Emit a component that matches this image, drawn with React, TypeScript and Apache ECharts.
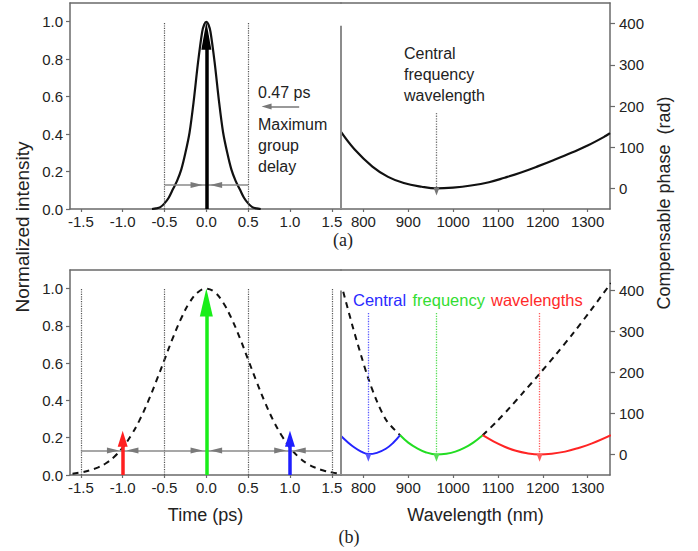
import React, { useEffect, useRef } from "react";
import * as echarts from "echarts";

// ---------- tick labels ----------
const timeTicks = [-1.5, -1.0, -0.5, 0.0, 0.5, 1.0, 1.5];
const intensityTicks = [0, 0.2, 0.4, 0.6, 0.8, 1.0];
const wavelengthTicks = [800, 900, 1000, 1100, 1200, 1300];
const phaseTicks = [0, 100, 200, 300, 400];

// ---------- panel (a) ----------
const timeA = [-0.65, -0.6, -0.55, -0.5, -0.45, -0.4, -0.35, -0.3, -0.25, -0.2, -0.15, -0.1, -0.05, -0.025, 0, 0.025, 0.05, 0.1, 0.15, 0.2, 0.25, 0.3, 0.35, 0.4, 0.45, 0.5, 0.55, 0.6, 0.65];
const intensityA = [0, 0.003, 0.01, 0.03, 0.06, 0.105, 0.15, 0.21, 0.3, 0.41, 0.58, 0.78, 0.945, 0.985, 1.0, 0.985, 0.945, 0.78, 0.58, 0.41, 0.3, 0.21, 0.15, 0.105, 0.06, 0.03, 0.01, 0.003, 0];
const wavelengthA = [750, 780, 820, 855, 890, 930, 963, 1000, 1040, 1080, 1115, 1150, 1190, 1225, 1265, 1300, 1340, 1350];
const phaseA = [137, 95, 53, 28, 13, 4, 0, 2, 7, 15, 26, 38, 54, 69, 87, 104, 127, 134];
const delayWindowA = [-0.5, 0.5];
const fwhmLevelA = 0.128;
const centralWavelengthA = 963;
const delayArrowA = { from: 1.11, to: 0.66, level: 0.547 };

// ---------- panel (b) ----------
const timeB = [-1.6, -1.5, -1.4, -1.3, -1.2, -1.1, -1.0, -0.9, -0.8, -0.7, -0.6, -0.5, -0.4, -0.3, -0.2, -0.1, 0, 0.1, 0.2, 0.3, 0.4, 0.5, 0.6, 0.7, 0.8, 0.9, 1.0, 1.1, 1.2, 1.3, 1.4, 1.5, 1.6];
const intensityB = [0.007, 0.014, 0.024, 0.04, 0.063, 0.098, 0.147, 0.212, 0.293, 0.391, 0.502, 0.619, 0.736, 0.841, 0.926, 0.981, 1.0, 0.981, 0.926, 0.841, 0.736, 0.619, 0.502, 0.391, 0.293, 0.212, 0.147, 0.098, 0.063, 0.04, 0.024, 0.014, 0.007];
const delayWindowB = [-1.5, -0.5, 0.5, 1.5];
const fwhmLevelB = 0.131;
const pulseTimesB = [-1.0, 0.0, 1.0];
const pulseTopsB = [0.237, 1.0, 0.237];
const pulseColorsB = ["#ff1f1f", "#19ee19", "#1f1fff"];

const dashLeftWl = [755, 775, 795, 811, 830, 852, 882];
const dashLeftPh = [397, 316, 241, 185, 130, 82, 47];
const dashRightWl = [1066, 1097, 1127, 1157, 1193, 1231, 1268, 1306, 1352];
const dashRightPh = [47, 80, 115, 152, 197, 246, 296, 350, 418];
const blueWl = [750, 765, 780, 795, 811, 830, 850, 866, 882];
const bluePh = [45, 30, 17, 7, 1, 4, 14, 28, 47];
const greenWl = [882, 900, 920, 940, 963, 985, 1005, 1025, 1045, 1066];
const greenPh = [47, 29, 15, 5, 0, 2, 7, 16, 29, 47];
const redWl = [1066, 1090, 1115, 1140, 1165, 1193, 1220, 1250, 1280, 1310, 1352];
const redPh = [47, 32, 19, 9, 3, 0, 2, 7, 16, 27, 47];
const centralWavelengthsB = [811, 963, 1193];
const centralColorsB = ["#5a5aff", "#55dd55", "#ff5a5a"];
const segmentColorsB = ["#2424ff", "#22dd22", "#ff2424"];

// ---------- texts ----------
const legendWordsB = ["Central", "frequency", "wavelengths"];
const legendColorsB = ["#2a2aff", "#33dd33", "#ff2a2a"];

const zip = (xs: number[], ys: number[]) => xs.map((x, i) => [x, ys[i]]);

const SANS = "'Liberation Sans', Arial, Helvetica, sans-serif";
const SERIF = "'Liberation Serif', 'Times New Roman', serif";
const FRAME = "#6a6a6a";
const TEXT = "#222";

const TIME_RANGE = [-1.63, 1.61];
const WL_RANGE = [750, 1350];
const INT_RANGE = [0, 1.1];
const PH_RANGE = [-50, 450];

// pixel scales used only to place arrow-head centres so that their tips land on the target value
const PX_T = 271 / (TIME_RANGE[1] - TIME_RANGE[0]);
const PX_I = 206 / (INT_RANGE[1] - INT_RANGE[0]);
const PX_P = 206 / (PH_RANGE[1] - PH_RANGE[0]);
const back = (tip: number, headLen: number, pxPerUnit: number, dir: number) => tip - (dir * headLen) / 2 / pxPerUnit;

const axisLine = { show: true, onZero: false, lineStyle: { color: FRAME, width: 1.5 } };
const labelBase = { fontSize: 15, color: TEXT, fontFamily: SANS };

function xBottom(gridIndex: number, range: number[], ticks: number[], fmt: (v: number) => string, name?: string) {
  return {
    type: "value", gridIndex, position: "bottom", min: range[0], max: range[1],
    splitLine: { show: false }, axisLine,
    axisTick: { show: true, length: 3, inside: false, customValues: ticks, lineStyle: { color: FRAME, width: 1.2 } },
    axisLabel: { show: true, customValues: ticks, formatter: fmt, margin: 5, ...labelBase },
    name: name || "", nameLocation: "middle", nameGap: 31,
    nameTextStyle: { fontSize: 18, color: TEXT, fontFamily: SANS },
  };
}
function xTop(gridIndex: number, range: number[]) {
  return {
    type: "value", gridIndex, position: "top", min: range[0], max: range[1],
    splitLine: { show: false }, axisLine, axisTick: { show: false }, axisLabel: { show: false },
  };
}
function yLeft(gridIndex: number) {
  return {
    type: "value", gridIndex, position: "left", min: INT_RANGE[0], max: INT_RANGE[1],
    splitLine: { show: false }, axisLine,
    axisTick: { show: true, length: 4, customValues: intensityTicks, lineStyle: { color: FRAME, width: 1.2 } },
    axisLabel: { show: true, customValues: intensityTicks, formatter: (v: number) => v.toFixed(1), margin: 7, ...labelBase },
  };
}
function yRight(gridIndex: number) {
  return {
    type: "value", gridIndex, position: "right", min: PH_RANGE[0], max: PH_RANGE[1],
    splitLine: { show: false }, axisLine,
    axisTick: { show: true, length: 5, customValues: phaseTicks, lineStyle: { color: FRAME, width: 1.2 } },
    axisLabel: { show: true, customValues: phaseTicks, formatter: (v: number) => String(v), margin: 9, ...labelBase },
  };
}

const NONE = ["none", "none"];
function ml(data: any[]) {
  return { silent: true, animation: false, symbol: NONE, label: { show: false }, emphasis: { disabled: true }, data };
}
function seg(a: number[], b: number[], style: any, endSym?: { symbol: string; size: number[] }) {
  const end: any = { coord: b };
  if (endSym) { end.symbol = endSym.symbol; end.symbolSize = endSym.size; }
  return [{ coord: a, lineStyle: style, symbol: "none" }, end];
}

const dotted = { type: "dotted", color: "#555", width: 1.2 };
const fwhmStyle = { type: "solid", color: "#8a8a8a", width: 1.5 };
const headStyle = { type: "solid", color: "#7a7a7a", width: 1 };

function convergingHeads(center: number, level: number, offset: number) {
  const len = 12;
  return [
    seg([center - offset - 0.06, level], [back(center - 0.045, len, PX_T, 1), level], headStyle, { symbol: "triangle", size: [6, len] }),
    seg([center + offset + 0.06, level], [back(center + 0.045, len, PX_T, -1), level], headStyle, { symbol: "triangle", size: [6, len] }),
  ];
}

function buildOption() {
  const series: any[] = [];

  // ----- (a) left: pulse -----
  series.push({
    type: "line", xAxisIndex: 0, yAxisIndex: 0, data: zip(timeA, intensityA), smooth: 0.3,
    showSymbol: false, symbol: "none", lineStyle: { color: "#111", width: 2.2 }, z: 3,
    markLine: ml([
      ...delayWindowA.map((t) => seg([t, 0], [t, 1.0], dotted)),
      seg([delayWindowA[0], fwhmLevelA], [delayWindowA[1], fwhmLevelA], fwhmStyle),
      ...convergingHeads(0, fwhmLevelA, 0.1),
      seg([0, 0], [0, back(1.0, 28, PX_I, 1)], { type: "solid", color: "#000", width: 3.5 }, { symbol: "triangle", size: [10, 28] }),
      seg([delayArrowA.from, delayArrowA.level], [back(delayArrowA.to, 10, PX_T, -1), delayArrowA.level], { type: "solid", color: "#777", width: 1.5 }, { symbol: "triangle", size: [6, 10] }),
    ]),
  });

  // ----- (a) right: phase -----
  series.push({
    type: "line", xAxisIndex: 2, yAxisIndex: 1, data: zip(wavelengthA, phaseA), smooth: 0.4,
    showSymbol: false, symbol: "none", lineStyle: { color: "#111", width: 2.2 }, z: 3,
    markLine: ml([
      seg([WL_RANGE[0], PH_RANGE[0]], [WL_RANGE[0], 395], { type: "solid", color: "#8c8c8c", width: 2 }),
      seg([centralWavelengthA, 183], [centralWavelengthA, back(2, 8, PX_P, 1)], { type: "dotted", color: "#777", width: 1.3 }, { symbol: "triangle", size: [6, 8] }),
    ]),
  });

  // ----- (b) left: dashed pulse + sub-pulses -----
  series.push({
    type: "line", xAxisIndex: 4, yAxisIndex: 2, data: zip(timeB, intensityB), smooth: 0.4,
    showSymbol: false, symbol: "none", lineStyle: { color: "#111", width: 2, type: [6, 5] }, z: 3,
    markLine: ml([
      ...delayWindowB.map((t) => seg([t, 0], [t, 1.0], dotted)),
      seg([delayWindowB[0], fwhmLevelB], [delayWindowB[delayWindowB.length - 1], fwhmLevelB], fwhmStyle),
      ...pulseTimesB.flatMap((t) => convergingHeads(t, fwhmLevelB, 0.1)),
    ]),
  });
  series.push({
    type: "line", xAxisIndex: 4, yAxisIndex: 2, data: [], z: 5,
    markLine: ml(pulseTimesB.map((t, i) => {
      const headLen = i === 1 ? 28 : 16;
      const headW = i === 1 ? 13 : 10;
      return seg([t, 0], [t, back(pulseTopsB[i], headLen, PX_I, 1)], { type: "solid", color: pulseColorsB[i], width: 3.5 }, { symbol: "triangle", size: [headW, headLen] });
    })),
  });

  // ----- (b) right: wrapped phase -----
  series.push({
    type: "line", xAxisIndex: 6, yAxisIndex: 3, data: zip(dashLeftWl, dashLeftPh), smooth: 0.3,
    showSymbol: false, symbol: "none", lineStyle: { color: "#111", width: 2, type: [6, 5] }, z: 3,
    markLine: ml([
      seg([WL_RANGE[0], PH_RANGE[0]], [WL_RANGE[0], 400], { type: "solid", color: "#8c8c8c", width: 2 }),
    ]),
  });
  series.push({
    type: "line", xAxisIndex: 6, yAxisIndex: 3, data: zip(dashRightWl, dashRightPh), smooth: 0.3,
    showSymbol: false, symbol: "none", lineStyle: { color: "#111", width: 2, type: [6, 5] }, z: 3,
  });
  [zip(blueWl, bluePh), zip(greenWl, greenPh), zip(redWl, redPh)].forEach((d, i) => {
    series.push({
      type: "line", xAxisIndex: 6, yAxisIndex: 3, data: d, smooth: 0.4,
      showSymbol: false, symbol: "none", lineStyle: { color: segmentColorsB[i], width: 2 }, z: 4,
    });
  });
  series.push({
    type: "line", xAxisIndex: 6, yAxisIndex: 3, data: [], z: 5,
    markLine: ml(centralWavelengthsB.map((w, i) =>
      seg([w, 345], [w, back(2, 8, PX_P, 1)], { type: "dotted", color: centralColorsB[i], width: 1.3 }, { symbol: "triangle", size: [6, 8] })
    )),
  });

  const txt = (text: string, x: number, y: number, size: number, fill = TEXT, align = "left", font = SANS, rotation = 0) => ({
    type: "text", x, y, rotation, silent: true,
    style: { text, fill, font: `${size}px ${font}`, align, verticalAlign: "middle", textAlign: align, textVerticalAlign: "middle" },
  });

  const legendX = [353, 412.5, 491];

  return {
    animation: false,
    backgroundColor: "#fff",
    grid: [
      { left: 70, top: 3, width: 271, height: 206 },
      { left: 341, top: 3, width: 269, height: 206 },
      { left: 70, top: 270, width: 271, height: 205 },
      { left: 341, top: 270, width: 269, height: 205 },
    ],
    xAxis: [
      xBottom(0, TIME_RANGE, timeTicks, (v) => v.toFixed(1)),
      xTop(0, TIME_RANGE),
      xBottom(1, WL_RANGE, wavelengthTicks, (v) => String(v)),
      xTop(1, WL_RANGE),
      xBottom(2, TIME_RANGE, timeTicks, (v) => v.toFixed(1), "Time (ps)"),
      xTop(2, TIME_RANGE),
      xBottom(3, WL_RANGE, wavelengthTicks, (v) => String(v), "Wavelength (nm)"),
      xTop(3, WL_RANGE),
    ],
    yAxis: [yLeft(0), yRight(1), yLeft(2), yRight(3)],
    series,
    graphic: [
      txt("0.47 ps", 258, 92, 16),
      txt("Maximum", 258, 124, 16),
      txt("group", 258, 145, 16),
      txt("delay", 258, 166, 16),
      txt("Central", 404, 53, 16),
      txt("frequency", 404, 74, 16),
      txt("wavelength", 404, 95, 16),
      ...legendWordsB.map((w, i) => txt(w, legendX[i], 300, 16.5, legendColorsB[i])),
      txt("(a)", 343, 240, 18, TEXT, "center", SERIF),
      txt("(b)", 349, 537, 18, TEXT, "center", SERIF),
      txt("Normalized intensity", 22, 227, 19, TEXT, "center", SANS, Math.PI / 2),
      txt("Compensable phase  (rad)", 664, 203, 18, TEXT, "center", SANS, Math.PI / 2),
    ],
  };
}

export default function App() {
  const ref = useRef<HTMLDivElement>(null);
  useEffect(() => {
    if (!ref.current) return;
    const chart = echarts.init(ref.current, undefined, { renderer: "svg" });
    chart.setOption(buildOption() as any);
    return () => chart.dispose();
  }, []);
  return (
    <div
      ref={ref}
      style={{ position: "absolute", left: 0, top: 0, width: 698, height: 551, background: "#fff" }}
    />
  );
}
